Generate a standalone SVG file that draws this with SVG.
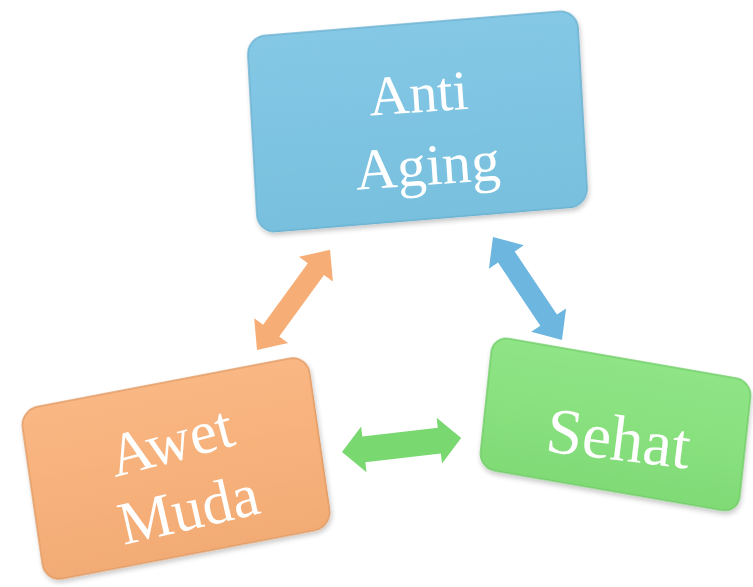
<svg xmlns="http://www.w3.org/2000/svg" width="753" height="587" viewBox="0 0 753 587">
<defs>
<style>
.lbl{font-family:"Liberation Serif","Times New Roman",serif;fill:#ffffff;text-anchor:middle}
.box{stroke-width:1.5}
</style>
<linearGradient id="gBlue" x1="0" y1="0" x2="0" y2="1">
<stop offset="0" stop-color="#84C8E5"/><stop offset="0.5" stop-color="#7EC4E2"/><stop offset="1" stop-color="#78C0DE"/>
</linearGradient>
<linearGradient id="gOrange" x1="0" y1="0" x2="0" y2="1">
<stop offset="0" stop-color="#F9B784"/><stop offset="0.5" stop-color="#F7B17B"/><stop offset="1" stop-color="#F2AB75"/>
</linearGradient>
<linearGradient id="gGreen" x1="0" y1="0" x2="0" y2="1">
<stop offset="0" stop-color="#8FE486"/><stop offset="0.5" stop-color="#88E17E"/><stop offset="1" stop-color="#80DA76"/>
</linearGradient>
<filter id="soft" x="-10%" y="-10%" width="120%" height="125%">
<feGaussianBlur in="SourceAlpha" stdDeviation="2.5"/>
<feOffset dx="1" dy="3" result="b"/>
<feComponentTransfer><feFuncA type="linear" slope="0.22"/></feComponentTransfer>
<feMerge><feMergeNode/><feMergeNode in="SourceGraphic"/></feMerge>
</filter>
<polygon id="arrow" points="0,0 24,-21 24,-10 100,-10 100,-21 124,0 100,21 100,10 24,10 24,21"/>
</defs>
<rect width="753" height="587" fill="#ffffff"/>

<g id="connectors">
<use href="#arrow" fill="#F6AE76" transform="translate(257,350) rotate(-53.9)"/>
<use href="#arrow" fill="#6DB6DF" transform="translate(493,237) rotate(56.2)"/>
<polygon fill="#7AD870" transform="translate(342,452) rotate(-6.7)" points="0,0 22,-23 22,-13 98,-13 98,-23 120,0 98,23 98,13 22,13 22,23"/>
</g>

<g id="anti-aging">
<rect class="box" x="0" y="0" width="330" height="196" rx="18" fill="url(#gBlue)" stroke="#6DB2D2" filter="url(#soft)" transform="matrix(1,-0.0818,0.0561,1,247,37)"/>
<g transform="rotate(-4 423 145)">
<text class="lbl" x="422" y="112" font-size="56">Anti</text>
<text class="lbl" x="426" y="185" font-size="58">Aging</text>
</g>
</g>

<g id="awet-muda">
<rect class="box" x="0" y="0" width="292" height="175" rx="18" fill="url(#gOrange)" stroke="#E29C66" filter="url(#soft)" transform="matrix(0.983,-0.188,0.143,0.983,20,410)"/>
<text class="lbl" x="176" y="461" font-size="61" transform="rotate(-15 176 461)">Awet</text>
<text class="lbl" x="193" y="529" font-size="61" transform="rotate(-13 193 529)">Muda</text>
</g>

<g id="sehat">
<rect class="box" x="0" y="0" width="263" height="133" rx="16" fill="url(#gGreen)" stroke="#72CE69" filter="url(#soft)" transform="matrix(0.985,0.171,-0.106,0.992,493,336)"/>
<text class="lbl" x="616" y="460" font-size="65" transform="rotate(7 616 460)">Sehat</text>
</g>
</svg>
